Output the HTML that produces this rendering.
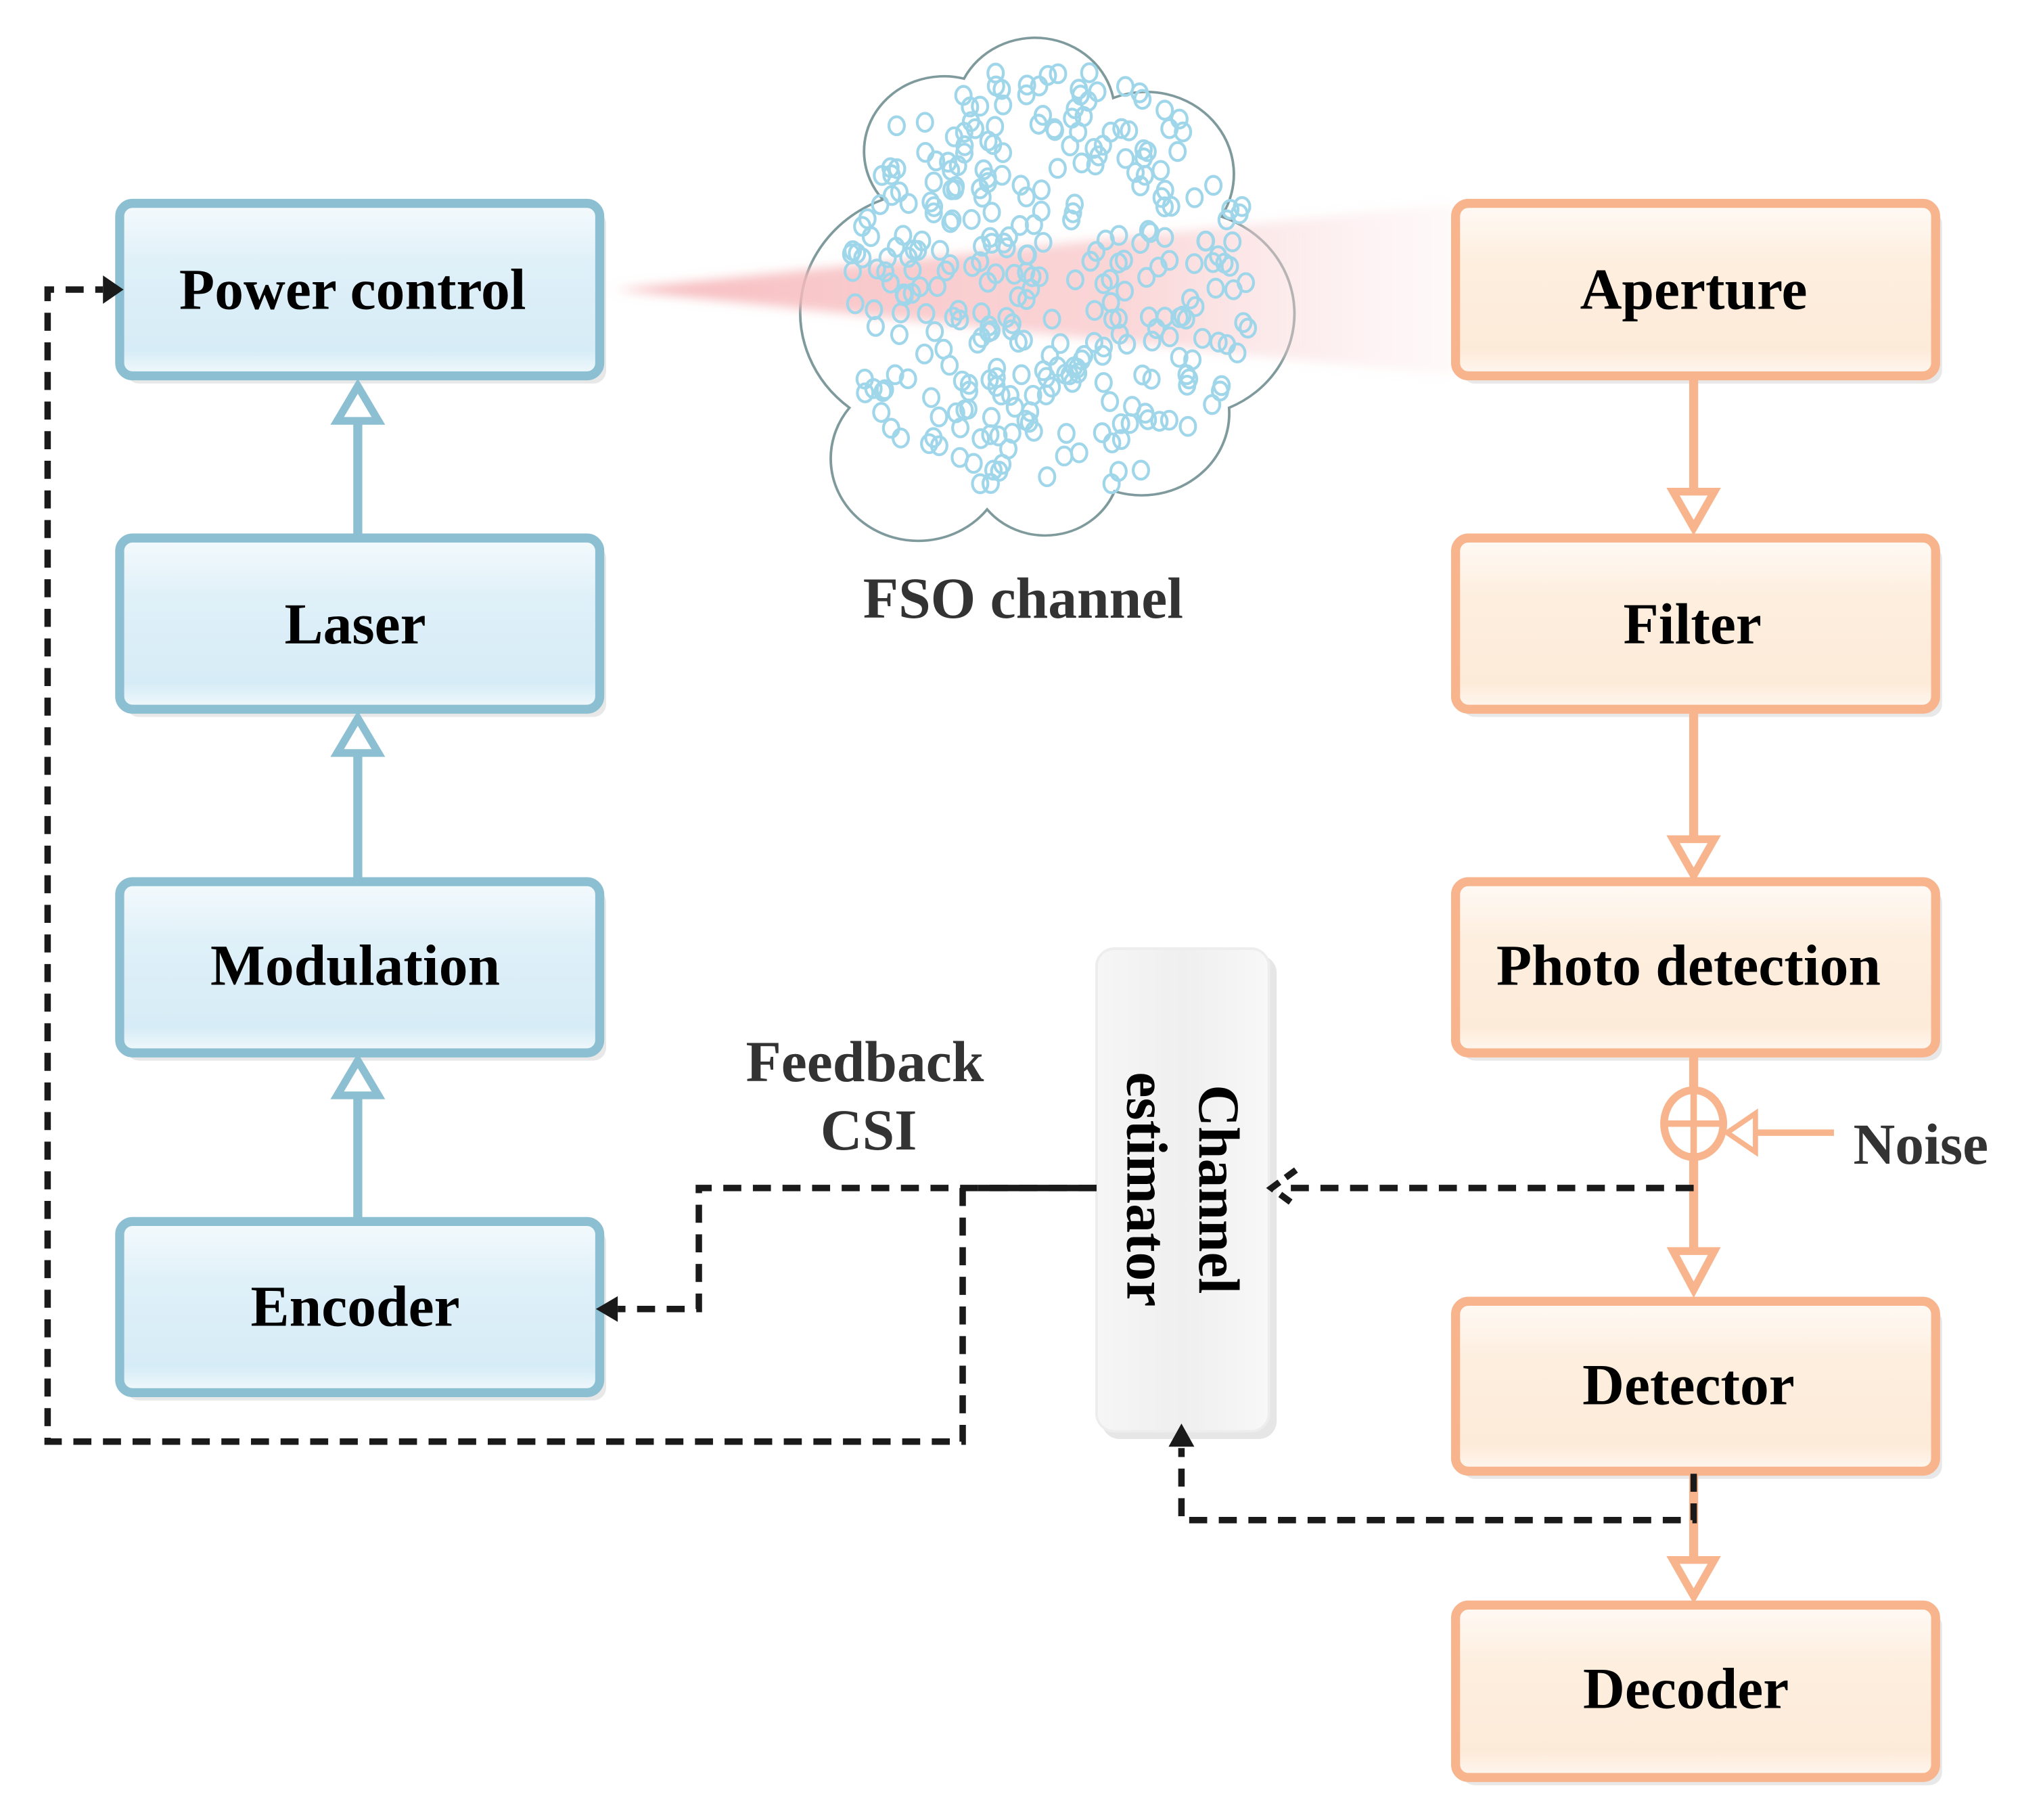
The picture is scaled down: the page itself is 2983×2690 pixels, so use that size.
<!DOCTYPE html>
<html><head><meta charset="utf-8"><style>
html,body{margin:0;padding:0;background:#fff}
svg{display:block}
text{font-family:"Liberation Serif",serif;font-weight:bold}
</style></head><body>
<svg id="s" width="2983" height="2690" viewBox="0 0 1568 1414" xmlns="http://www.w3.org/2000/svg">
<defs>
<linearGradient id="bl" x1="0" y1="0" x2="0" y2="1">
<stop offset="0" stop-color="#f4fafd"/><stop offset="0.35" stop-color="#dff0f8"/><stop offset="0.85" stop-color="#d6ecf6"/><stop offset="1" stop-color="#f2f9fc"/></linearGradient>
<linearGradient id="or" x1="0" y1="0" x2="0" y2="1">
<stop offset="0" stop-color="#fffaf5"/><stop offset="0.35" stop-color="#fdeede"/><stop offset="0.85" stop-color="#fdebd9"/><stop offset="1" stop-color="#fff7f0"/></linearGradient>
<linearGradient id="gr" x1="0" y1="0" x2="1" y2="0">
<stop offset="0" stop-color="#f6f6f6"/><stop offset="0.5" stop-color="#efefef"/><stop offset="1" stop-color="#f8f8f8"/></linearGradient>
<linearGradient id="beam" x1="0" y1="0" x2="1" y2="0">
<stop offset="0" stop-color="#f6b5b8" stop-opacity="0.9"/><stop offset="0.6" stop-color="#f8c4c6" stop-opacity="0.7"/><stop offset="1" stop-color="#fbe2e3" stop-opacity="0.2"/></linearGradient>
<filter id="bf"><feGaussianBlur stdDeviation="4"/></filter>
</defs>

<!-- cloud -->
<path transform="translate(8,16) scale(1,0.94)" d="M678,148 A62,62 0 0 1 741,48 A62,62 0 0 1 857,64 A68,68 0 0 1 941,162 A85,85 0 0 1 947,320 A68,68 0 0 1 858,389 A58,58 0 0 1 759,404 A68,68 0 0 1 652,320 A100,100 0 0 1 678,148 Z" fill="#fff" stroke="#7f9a9c" stroke-width="2"/>
<!-- beam -->
<polygon points="478,225 1130,158 1130,292" fill="url(#beam)" filter="url(#bf)"/>
<g id="dots" fill="none" stroke="#9fd6ea" stroke-width="2.2"></g>

<!-- left boxes -->
<g stroke="#8bbfd1" stroke-width="7" fill="url(#bl)">
<rect x="98" y="164" width="373" height="134" rx="10" fill="#e8e8e8" stroke="none"/>
<rect x="93" y="158" width="373" height="134" rx="10"/>
<rect x="98" y="424" width="373" height="133" rx="10" fill="#e8e8e8" stroke="none"/>
<rect x="93" y="418" width="373" height="133" rx="10"/>
<rect x="98" y="691" width="373" height="133" rx="10" fill="#e8e8e8" stroke="none"/>
<rect x="93" y="685" width="373" height="133" rx="10"/>
<rect x="98" y="955" width="373" height="133" rx="10" fill="#e8e8e8" stroke="none"/>
<rect x="93" y="949" width="373" height="133" rx="10"/>
</g>
<!-- right boxes -->
<g stroke="#f8b48c" stroke-width="7" fill="url(#or)">
<rect x="1136" y="164" width="373" height="134" rx="10" fill="#e8e8e8" stroke="none"/>
<rect x="1131" y="158" width="373" height="134" rx="10"/>
<rect x="1136" y="424" width="373" height="133" rx="10" fill="#e8e8e8" stroke="none"/>
<rect x="1131" y="418" width="373" height="133" rx="10"/>
<rect x="1136" y="691" width="373" height="133" rx="10" fill="#e8e8e8" stroke="none"/>
<rect x="1131" y="685" width="373" height="133" rx="10"/>
<rect x="1136" y="1017" width="373" height="132" rx="10" fill="#e8e8e8" stroke="none"/>
<rect x="1131" y="1011" width="373" height="132" rx="10"/>
<rect x="1136" y="1253" width="373" height="134" rx="10" fill="#e8e8e8" stroke="none"/>
<rect x="1131" y="1247" width="373" height="134" rx="10"/>
</g>
<!-- channel estimator -->
<rect x="856" y="742" width="136" height="376" rx="14" fill="#e6e6e6"/>
<rect x="852" y="737" width="134" height="375" rx="14" fill="url(#gr)" stroke="#ededed" stroke-width="2"/>

<!-- blue arrows -->
<g stroke="#8bbfd1" stroke-width="7" fill="none">
<line x1="278" y1="418" x2="278" y2="322"/>
<line x1="278" y1="685" x2="278" y2="582"/>
<line x1="278" y1="949" x2="278" y2="848"/>
<polygon points="278,300 262,327 294,327" fill="#fff" stroke-width="6"/>
<polygon points="278,558 262,585 294,585" fill="#fff" stroke-width="6"/>
<polygon points="278,824 262,851 294,851" fill="#fff" stroke-width="6"/>
</g>
<!-- orange arrows -->
<g stroke="#f8b48c" stroke-width="7" fill="none">
<line x1="1316" y1="292" x2="1316" y2="382"/>
<polygon points="1316,410 1300,382 1332,382" fill="#fff" stroke-width="6"/>
<line x1="1316" y1="551" x2="1316" y2="652"/>
<polygon points="1316,680 1300,652 1332,652" fill="#fff" stroke-width="6"/>
<line x1="1316" y1="818" x2="1316" y2="847"/>
<ellipse cx="1316" cy="873" rx="23" ry="26" stroke-width="6"/>
<line x1="1316" y1="849" x2="1316" y2="897" stroke-width="5"/>
<line x1="1294" y1="873" x2="1338" y2="873" stroke-width="5"/>
<line x1="1316" y1="899" x2="1316" y2="972"/>
<polygon points="1316,1002 1300,972 1332,972" fill="#fff" stroke-width="6"/>
<line x1="1316" y1="1143" x2="1316" y2="1212"/>
<polygon points="1316,1240 1300,1212 1332,1212" fill="#fff" stroke-width="6"/>
<line x1="1425" y1="880" x2="1364" y2="880" stroke-width="5"/>
<polygon points="1342,880 1364,865 1364,895" fill="#fff" stroke-width="4"/>
</g>

<!-- dashed connectors -->
<g stroke="#1a1a1a" stroke-width="5" fill="none" stroke-dasharray="14,9">
<polyline points="1316,923 1002,923"/>
<polyline points="852,923 543,923 543,1017 480,1017"/>
<polyline points="748,923 748,1120 37,1120 37,225 80,225"/>
<polyline points="1316,1145 1316,1181 918,1181 918,1125"/>
</g>
<line x1="852" y1="923" x2="760" y2="923" stroke="#1a1a1a" stroke-width="5"/>
<g fill="#1a1a1a">
<polygon points="96,225 80,214 80,236"/>
<polygon points="463,1017 480,1007 480,1027"/>
<polygon points="918,1106 908,1124 928,1124"/>
</g>
<polyline points="1007,909 988,923 1007,937" fill="none" stroke="#1a1a1a" stroke-width="5" stroke-dasharray="10,6"/>

<!-- labels -->
<g font-size="45" fill="#000" text-anchor="middle">
<text x="274" y="240">Power control</text>
<text x="276" y="500">Laser</text>
<text x="276" y="765">Modulation</text>
<text x="276" y="1030">Encoder</text>
<text x="1316" y="240">Aperture</text>
<text x="1315" y="500">Filter</text>
<text x="1312" y="765">Photo detection</text>
<text x="1312" y="1091">Detector</text>
<text x="1310" y="1327">Decoder</text>
</g>
<g font-size="45" fill="#333">
<text x="795" y="480" text-anchor="middle">FSO channel</text>
<text x="672" y="840" text-anchor="middle">Feedback</text>
<text x="675" y="893" text-anchor="middle">CSI</text>
<text x="1440" y="904">Noise</text>
</g>
<g font-size="45" fill="#000" text-anchor="middle">
<text transform="translate(932,924) rotate(90)">Channel</text>
<text transform="translate(876,924) rotate(90)">estimator</text>
</g>
</svg>
<script>
(function(){var g=document.getElementById('dots'),s=12345;function r(){s=(s*16807)%2147483647;return s/2147483647;}
var n=0,t=0;while(n<330&&t<6000){t++;var x=660+r()*335,y=45+r()*345;
var dx=(x-810)/170,dy=(y-218)/172;if(dx*dx+dy*dy>0.95)continue;
var c=document.createElementNS('http://www.w3.org/2000/svg','ellipse');c.setAttribute('cx',x.toFixed(1));c.setAttribute('cy',y.toFixed(1));c.setAttribute('rx','6');c.setAttribute('ry','7');g.appendChild(c);n++;}})();
</script>
</body></html>
